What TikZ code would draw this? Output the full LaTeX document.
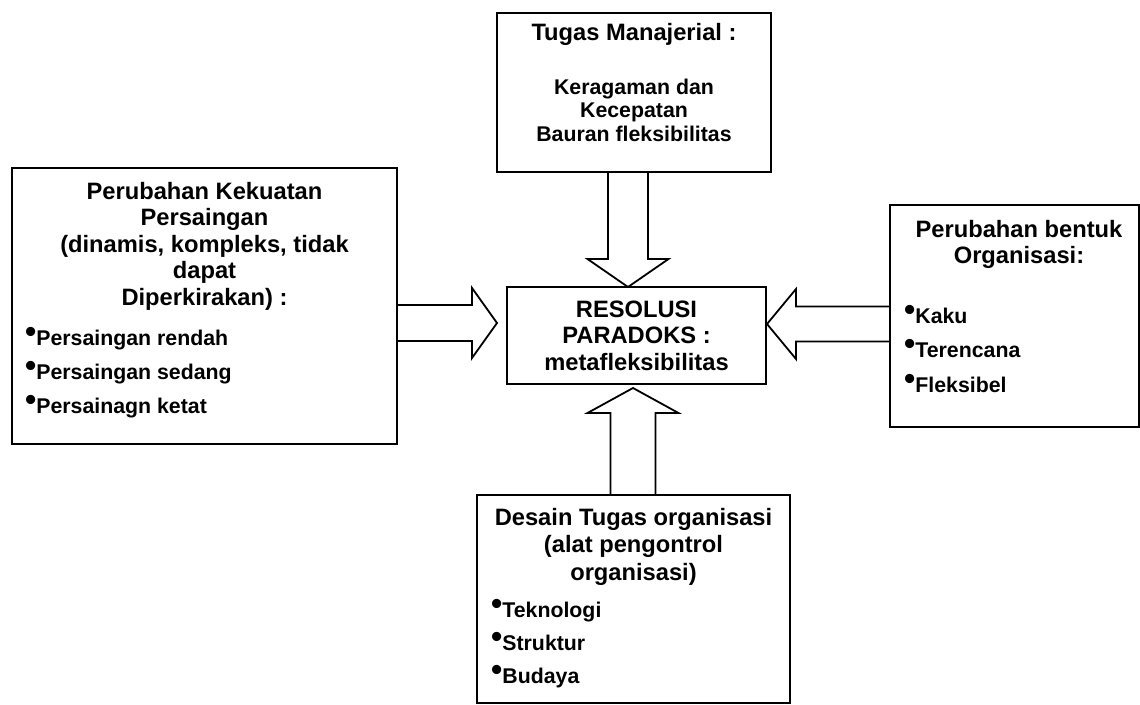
\documentclass[tikz,border=0pt]{standalone}
\usepackage{fontspec}
\setmainfont{Liberation Sans}
\usetikzlibrary{positioning,calc}
\tikzset{
    % boxes
    kotak/.style={draw, line width=1.8pt, inner sep=0pt, outer sep=0pt},
    % text lines
    judul/.style={anchor=base, inner sep=0pt, font=\fontsize{23.7}{28}\selectfont\bfseries},
    isi/.style={anchor=base, inner sep=0pt, font=\fontsize{21.3}{25}\selectfont\bfseries},
    butir/.style={anchor=base west, inner sep=0pt, font=\fontsize{21.3}{25}\selectfont\bfseries},
    % block arrows
    panah/.style={draw, line width=1.8pt, fill=white, line join=miter},
}
\newcommand{\bul}{\raisebox{3pt}{\fontsize{32}{32}\selectfont\textbullet}}
% #1 tail, #2 tip, #3 half shaft, #4 half head, #5 head length
\newcommand{\blokpanah}[5]{%
  \coordinate (H) at ($(#2)!#5!(#1)$);
  \draw[panah] (#2) -- ($(H)!#4!90:(#1)$) -- ($(H)!#3!90:(#1)$) -- ($(#1)!#3!-90:(#2)$)
     -- ($(#1)!#3!90:(#2)$) -- ($(H)!#3!-90:(#1)$) -- ($(H)!#4!-90:(#1)$) -- cycle;
}

\begin{document}
\begin{tikzpicture}[x=1pt, y=-1pt]

\useasboundingbox (0,0) rectangle (1140,704);
\clip (0,0) rectangle (1140,704);

%%%%%%%%%%%%%%%%%%%%%%%%%%%%%%%%%

% boxes
\node [kotak, minimum width=274, minimum height=159] (atas)  at (634, 92.5) {};
\node [kotak, minimum width=385, minimum height=276] (kiri)  at (204.5, 306) {};
\node [kotak, minimum width=259, minimum height=97]  (res)   at (636.5, 335.5) {};
\node [kotak, minimum width=249, minimum height=222] (kanan) at (1014.5, 316) {};
\node [kotak, minimum width=313, minimum height=208] (bawah) at (633.5, 599) {};

% arrow ends
\coordinate (pangkalA) at ([xshift=-6pt]atas.south);
\coordinate (ujungA)   at (pangkalA |- res.north);
\coordinate (ujungB)   at (497, 323);
\coordinate (pangkalB) at (kiri.east |- ujungB);
\coordinate (ujungC)   at (767, 324);
\coordinate (pangkalC) at (kanan.west |- ujungC);
\coordinate (ujungD)   at (633, 388);
\coordinate (pangkalD) at (ujungD |- bawah.north);

% block arrows
\blokpanah{pangkalA}{ujungA}{20pt}{40.5pt}{28pt}
\blokpanah{pangkalB}{ujungB}{18pt}{35pt}{25pt}
\blokpanah{pangkalC}{ujungC}{17.5pt}{35pt}{29pt}
\blokpanah{pangkalD}{ujungD}{22.5pt}{45.5pt}{25pt}

% top box
\node [judul] (atas1) at (634, 40)  {Tugas Manajerial :};
\node [isi]   (atas2) at (634, 94)  {Keragaman dan};
\node [isi]   (atas3) at (634, 117.5) {Kecepatan};
\node [isi]   (atas4) at (634, 141) {Bauran fleksibilitas};

% left box
\node [judul] (kiri1) at (204.5, 199)   {Perubahan Kekuatan};
\node [judul] (kiri2) at (204.5, 225.5) {Persaingan};
\node [judul] (kiri3) at (204.5, 252)   {(dinamis, kompleks, tidak};
\node [judul] (kiri4) at (204.5, 278.5) {dapat};
\node [judul] (kiri5) at (204.5, 305)   {Diperkirakan) :};
\node [butir] (kiri6) at (25, 345) {\bul Persaingan rendah};
\node [butir] (kiri7) at (25, 379) {\bul Persaingan sedang};
\node [butir] (kiri8) at (25, 413) {\bul Persainagn ketat};

% centre box
\node [judul] (res1) at (636.5, 317) {RESOLUSI};
\node [judul] (res2) at (636.5, 343) {PARADOKS :};
\node [judul] (res3) at (636.5, 370) {metafleksibilitas};

% right box
\node [judul] (kanan1) at (1019, 237) {Perubahan bentuk};
\node [judul] (kanan2) at (1019, 263) {Organisasi:};
\node [butir] (kanan3) at (904, 323) {\bul Kaku};
\node [butir] (kanan4) at (904, 357.5) {\bul Terencana};
\node [butir] (kanan5) at (904, 392) {\bul Fleksibel};

% bottom box
\node [judul] (bawah1) at (633.5, 525)   {Desain Tugas organisasi};
\node [judul] (bawah2) at (633.5, 552.5) {(alat pengontrol};
\node [judul] (bawah3) at (633.5, 580)   {organisasi)};
\node [butir] (bawah4) at (491, 617) {\bul Teknologi};
\node [butir] (bawah5) at (491, 650) {\bul Struktur};
\node [butir] (bawah6) at (491, 683) {\bul Budaya};

\end{tikzpicture}
\end{document}
